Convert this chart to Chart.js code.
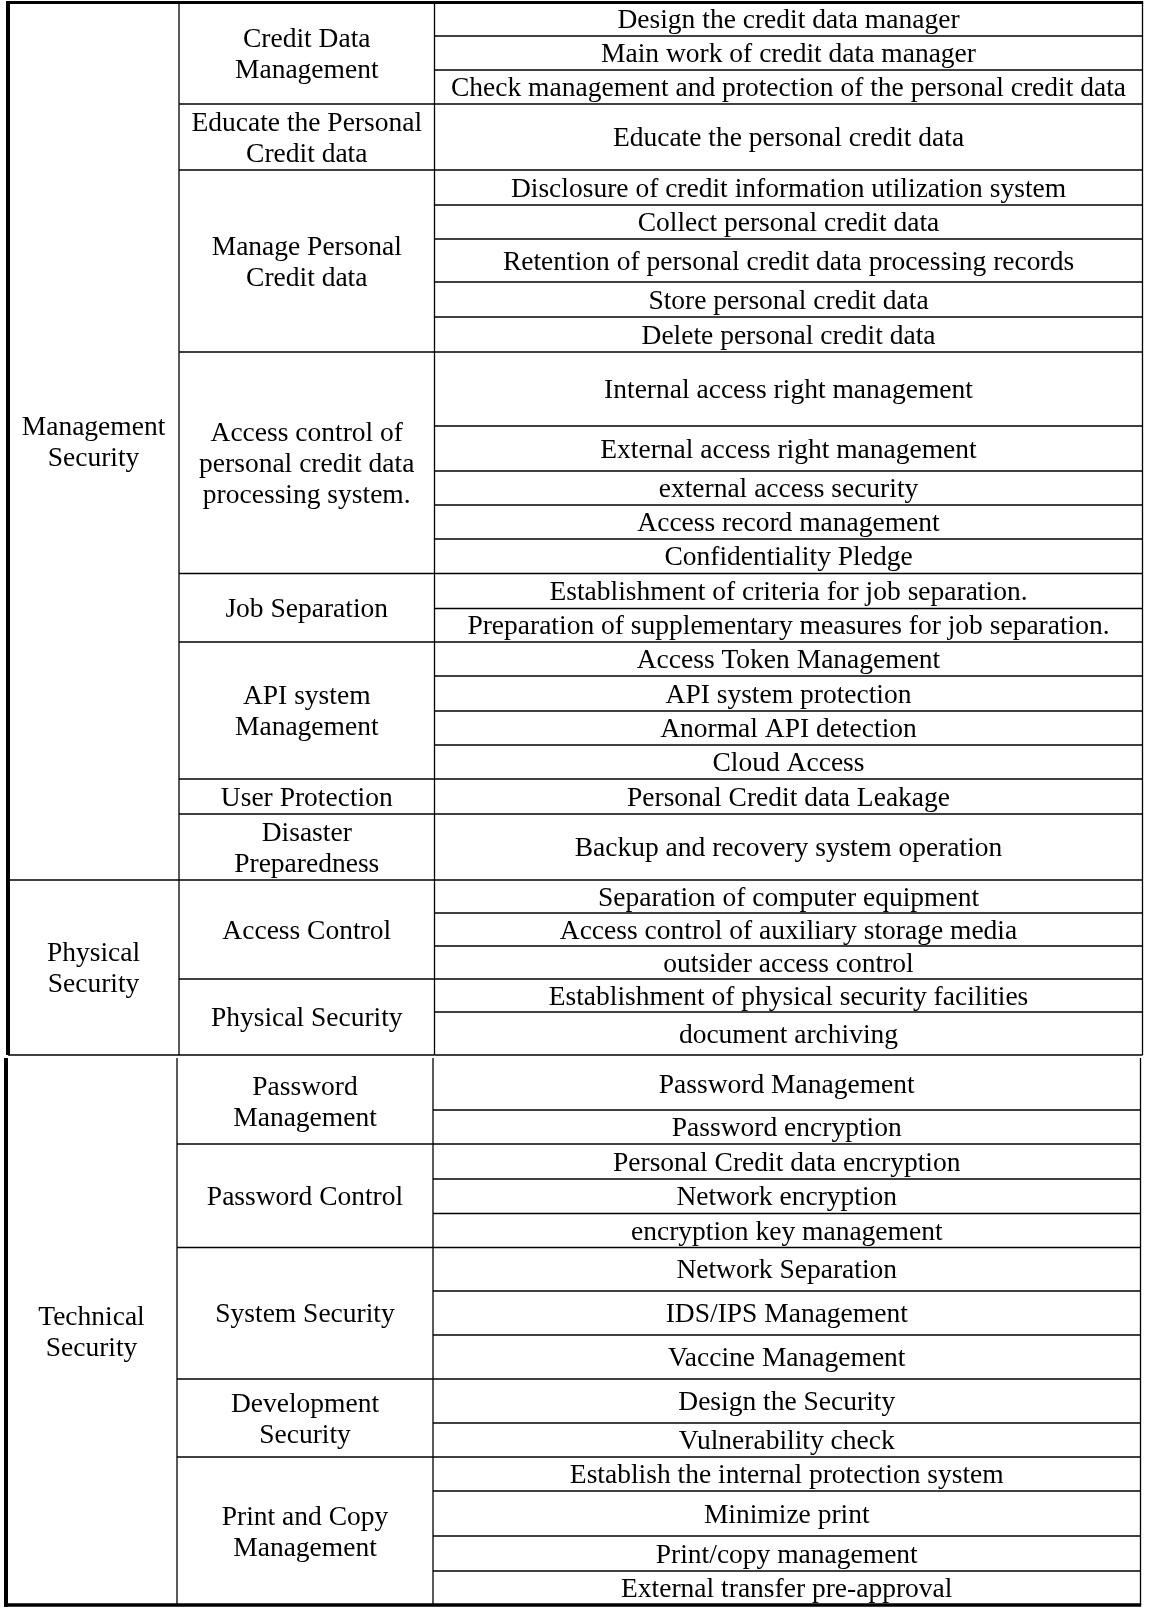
<!DOCTYPE html>
<html>
<head>
<meta charset="utf-8">
<title>Personal credit data security items</title>
<script src="https://cdn.jsdelivr.net/npm/chart.js@4.4.1/dist/chart.umd.min.js"></script>
<style>
  html, body { margin: 0; padding: 0; background: #fff; }
  #wrap { width: 1149px; height: 1614px; }
</style>
</head>
<body>
<div id="wrap"><canvas id="myChart" width="1149" height="1614"></canvas></div>
<script>
// ---- data ----
const groupNames = [
  ["Management", "Security"],
  ["Physical", "Security"],
  ["Technical", "Security"],
];

const subNames = [
  ["Credit Data", "Management"],
  ["Educate the Personal", "Credit data"],
  ["Manage Personal", "Credit data"],
  ["Access control of", "personal credit data", "processing system."],
  ["Job Separation"],
  ["API system", "Management"],
  ["User Protection"],
  ["Disaster", "Preparedness"],
  ["Access Control"],
  ["Physical Security"],
  ["Password", "Management"],
  ["Password Control"],
  ["System Security"],
  ["Development", "Security"],
  ["Print and Copy", "Management"],
];
// which group each subcategory belongs to
const subGroup = [0, 0, 0, 0, 0, 0, 0, 0, 1, 1, 2, 2, 2, 2, 2];

const itemNames = [
  "Design the credit data manager",
  "Main work of credit data manager",
  "Check management and protection of the personal credit data",
  "Educate the personal credit data",
  "Disclosure of credit information utilization system",
  "Collect personal credit data",
  "Retention of personal credit data processing records",
  "Store personal credit data",
  "Delete personal credit data",
  "Internal access right management",
  "External access right management",
  "external access security",
  "Access record management",
  "Confidentiality Pledge",
  "Establishment of criteria for job separation.",
  "Preparation of supplementary measures for job separation.",
  "Access Token Management",
  "API system protection",
  "Anormal API detection",
  "Cloud Access",
  "Personal Credit data Leakage",
  "Backup and recovery system operation",
  "Separation of computer equipment",
  "Access control of auxiliary storage media",
  "outsider access control",
  "Establishment of physical security facilities",
  "document archiving",
  "Password Management",
  "Password encryption",
  "Personal Credit data encryption",
  "Network encryption",
  "encryption key management",
  "Network Separation",
  "IDS/IPS Management",
  "Vaccine Management",
  "Design the Security",
  "Vulnerability check",
  "Establish the internal protection system",
  "Minimize print",
  "Print/copy management",
  "External transfer pre-approval",
];
// which subcategory each item belongs to
const itemSub = [
  0, 0, 0,
  1,
  2, 2, 2, 2, 2,
  3, 3, 3, 3, 3,
  4, 4,
  5, 5, 5, 5,
  6,
  7,
  8, 8, 8,
  9, 9,
  10, 10,
  11, 11, 11,
  12, 12, 12,
  13, 13,
  14, 14, 14, 14,
];

// ---- layout (in scale units of the page) ----
const groupBounds = [[2.5, 880], [880, 1055], [1058, 1605]];
const groupCols = [
  [8, 179, 434.5, 1142.5],
  [8, 179, 434.5, 1142.5],
  [6, 177, 433, 1140.5],
];
const rowTops = [
  2.5, 36, 70, 104, 170, 205, 239, 282, 317, 352, 426, 471, 505, 539,
  573.5, 608.5, 642, 676, 711, 745, 779, 814, 880, 913, 946, 979, 1012,
  1058, 1110, 1144, 1179, 1213.5, 1247.5, 1291, 1335, 1379, 1423, 1457,
  1491, 1536, 1571,
];

const FONT_SIZE = 27.5;
const LINE_GAP = 31;

function itemBottom(i) {
  const g = subGroup[itemSub[i]];
  if (i + 1 < itemNames.length && subGroup[itemSub[i + 1]] === g) return rowTops[i + 1];
  return groupBounds[g][1];
}

const tablePlugin = {
  id: "tablePlugin",
  afterDraw(chart) {
    const ctx = chart.ctx;
    const X = (v) => chart.scales.x.getPixelForValue(v);
    const Y = (v) => chart.scales.y.getPixelForValue(v);

    function hline(y, x0, x1, w) {
      ctx.lineWidth = w;
      ctx.beginPath();
      ctx.moveTo(X(x0), Y(y));
      ctx.lineTo(X(x1), Y(y));
      ctx.stroke();
    }
    function vline(x, y0, y1, w) {
      ctx.lineWidth = w;
      ctx.beginPath();
      ctx.moveTo(X(x), Y(y0));
      ctx.lineTo(X(x), Y(y1));
      ctx.stroke();
    }
    function label(lines, x0, x1, y0, y1) {
      const cx = X((x0 + x1) / 2);
      const cy = (Y(y0) + Y(y1)) / 2;
      lines.forEach((t, k) => {
        const ly = cy + (k - (lines.length - 1) / 2) * LINE_GAP;
        ctx.fillText(t, cx, ly + FONT_SIZE * 0.331);
      });
    }

    ctx.save();
    ctx.strokeStyle = "#000";
    ctx.fillStyle = "#000";
    ctx.font = FONT_SIZE + 'px "Liberation Serif", "Times New Roman", serif';
    ctx.textAlign = "center";
    ctx.textBaseline = "alphabetic";

    // items
    itemNames.forEach((name, i) => {
      const g = subGroup[itemSub[i]];
      const c = groupCols[g];
      const top = rowTops[i];
      const bot = itemBottom(i);
      hline(bot, c[2], c[3], 1.3);
      label([name], c[2], c[3], top, bot);
    });

    // subcategories
    subNames.forEach((lines, s) => {
      const idx = itemSub.map((v, i) => (v === s ? i : -1)).filter((i) => i >= 0);
      const g = subGroup[s];
      const c = groupCols[g];
      const top = rowTops[idx[0]];
      const bot = itemBottom(idx[idx.length - 1]);
      hline(bot, c[1], c[2], 1.3);
      label(lines, c[1], c[2], top, bot);
    });

    // groups
    groupNames.forEach((lines, g) => {
      const c = groupCols[g];
      const [top, bot] = groupBounds[g];
      if (g < 2) hline(bot, c[0], c[1], 1.3);
      vline(c[1], top, bot, 1.3);
      vline(c[2], top, bot, 1.3);
      vline(c[3], top, bot, 1.3);
      vline(c[0], top - (g === 0 ? 1.5 : 0), bot + (g === 2 ? 1.7 : 0), 4);
      label(lines, c[0], c[1], top, bot);
    });

    // thick top and bottom rules
    hline(groupBounds[0][0], groupCols[0][0] - 2, groupCols[0][3] + 0.7, 3);
    hline(groupBounds[2][1], groupCols[2][0] - 2, groupCols[2][3] + 0.7, 3.5);

    ctx.restore();
  },
};

const ctx = document.getElementById("myChart").getContext("2d");
window.myChart = new Chart(ctx, {
  type: "scatter",
  data: { datasets: [{ data: [], showLine: false }] },
  options: {
    responsive: false,
    animation: false,
    devicePixelRatio: 1,
    layout: { padding: 0 },
    plugins: { legend: { display: false }, tooltip: { enabled: false } },
    scales: {
      x: { type: "linear", min: 0, max: 1149, display: false },
      y: { type: "linear", min: 0, max: 1614, reverse: true, display: false },
    },
  },
  plugins: [tablePlugin],
});
</script>
</body>
</html>
